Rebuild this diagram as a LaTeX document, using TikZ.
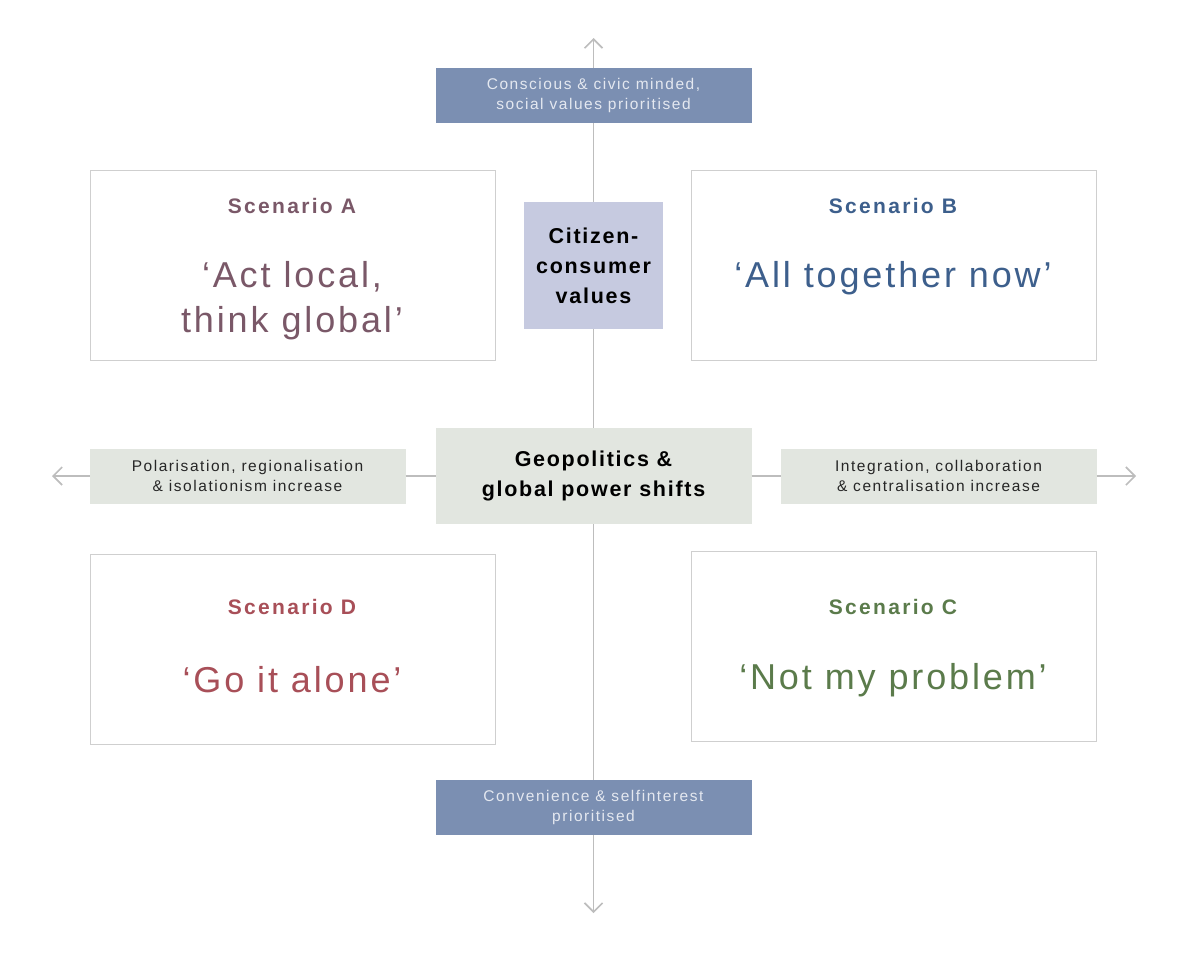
\documentclass[tikz,border=0pt]{standalone}
\usepackage{fontspec}
\setmainfont{Liberation Sans}
\usepackage{tikz}
\usetikzlibrary{positioning,arrows.meta}

\newfontfamily\labfont[LetterSpace=10]{Liberation Sans}
\newfontfamily\hubfont[LetterSpace=8]{Liberation Sans Bold}
\newfontfamily\titfont[LetterSpace=11]{Liberation Sans Bold}
\newfontfamily\quofont[LetterSpace=8]{Liberation Sans}

\definecolor{valblue}{HTML}{7B8FB2}
\definecolor{valtext}{HTML}{E4E8F0}
\definecolor{citfill}{HTML}{C6CAE0}
\definecolor{geofill}{HTML}{E2E6E0}
\definecolor{axisgray}{HTML}{BDBDBD}
\definecolor{framegray}{HTML}{CFCFCF}
\definecolor{colA}{HTML}{7A5868}
\definecolor{colB}{HTML}{3D5F8C}
\definecolor{colC}{HTML}{5B7B4B}
\definecolor{colD}{HTML}{A84F58}

\begin{document}
\begin{tikzpicture}[
  x=1pt, y=-1pt,
  node distance=30pt and 30pt,
  every node/.style={outer sep=0pt, inner sep=0pt},
  valbox/.style={fill=valblue, text=valtext, align=center,
                 minimum width=316pt, minimum height=55pt,
                 font=\labfont\fontsize{15.5}{20}\selectfont},
  geobox/.style={fill=geofill, text=black!85, align=center,
                 minimum width=316pt, minimum height=55pt,
                 font=\labfont\fontsize{15.5}{20}\selectfont},
  hub/.style={align=center, font=\hubfont\fontsize{21.5}{30}\selectfont},
  scen/.style={draw=framegray, line width=1pt, fill=white,
               minimum width=405pt, minimum height=190pt},
  scentitle/.style={font=\titfont\fontsize{21}{24}\selectfont},
  scenquote/.style={align=center, font=\quofont\fontsize{36}{45}\selectfont},
  axis/.style={draw=axisgray, line width=1.6pt},
  axisarr/.style={axis, -{Straight Barb[length=9pt, width=18pt, line width=1.6pt]}}
]
\useasboundingbox (0,0) rectangle (1200,956);

% centre and axis labels
\node[hub, fill=citfill, minimum width=139pt, minimum height=127pt] (citizen) at (593.5,265.5)
  {Citizen-\\consumer\\values};
\node[hub, fill=geofill, minimum width=316pt, minimum height=96pt] (geo) at (593.5,476)
  {Geopolitics \&\\global power shifts};
\node[valbox] (topv) at (593.5,95.5) {Conscious \& civic minded,\\social values prioritised};
\node[valbox] (botv) at (593.5,807.5) {Convenience \& selfinterest\\prioritised};
\node[geobox, left=30pt of geo] (westl) {Polarisation, regionalisation\\\& isolationism increase};
\node[geobox, right=29pt of geo] (eastl) {Integration, collaboration\\\& centralisation increase};

% scenarios
\node[scen, left=29pt of citizen] (scenA) {};
\node[scen, right=28pt of citizen] (scenB) {};
\node[scen] (scenD) at (292.5,649) {};
\node[scen] (scenC) at (893.5,646) {};

\node[scentitle, text=colA] (titleA) at (292,206) {Scenario A};
\node[scenquote, text=colA] (quoteA) at (292,300.5) {‘Act local,\\think global’};
\node[scentitle, text=colB] (titleB) at (893,206) {Scenario B};
\node[scenquote, text=colB] (quoteB) at (893,278) {‘All together now’};
\node[scentitle, text=colD] (titleD) at (292,607) {Scenario D};
\node[scenquote, text=colD] (quoteD) at (292,680) {‘Go it alone’};
\node[scentitle, text=colC] (titleC) at (893,607) {Scenario C};
\node[scenquote, text=colC] (quoteC) at (893,680) {‘Not my problem’};

% axes
\coordinate (ntip) at (593.5,38);
\coordinate (stip) at (593.5,913);
\coordinate (wtip) at (52,476);
\coordinate (etip) at (1136,476);
\draw[axisarr] (topv.north) -- (ntip);
\draw[axis] (topv.south) -- (citizen.north);
\draw[axis] (citizen.south) -- (geo.north);
\draw[axis] (geo.south) -- (botv.north);
\draw[axisarr] (botv.south) -- (stip);
\draw[axisarr] (westl.west) -- (wtip);
\draw[axis] (westl.east) -- (geo.west);
\draw[axis] (geo.east) -- (eastl.west);
\draw[axisarr] (eastl.east) -- (etip);
\end{tikzpicture}
\end{document}
